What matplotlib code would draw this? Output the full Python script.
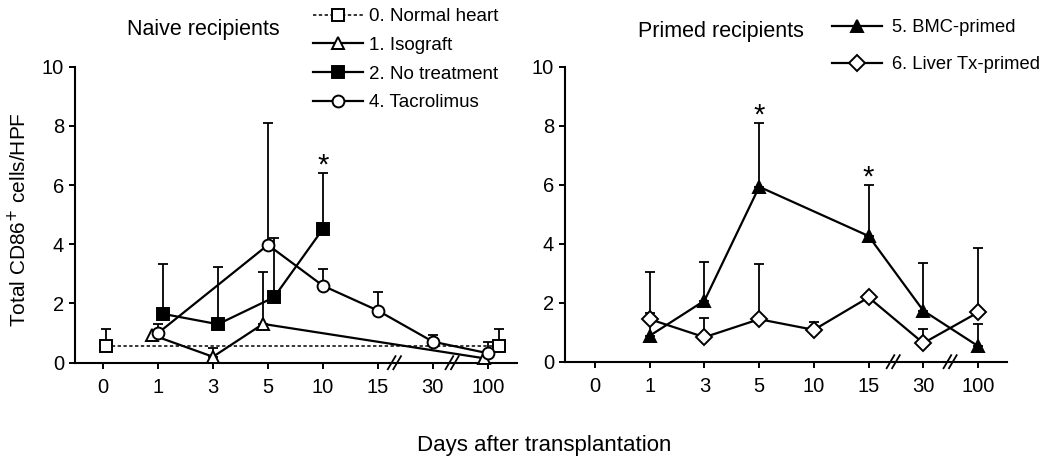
import numpy as np
import matplotlib
matplotlib.use('Agg')
import matplotlib.pyplot as plt

plt.rcParams['font.family'] = ['Liberation Sans', 'DejaVu Sans']

# x categories (days after transplantation)
day_labels = ['0', '1', '3', '5', '10', '15', '30', '100']

# ---- naive recipients: mean and top of the (upper) error bar
normal_days = ['0', '100']
normal_mean = [0.56, 0.56]
normal_top = [1.13, 1.15]

iso_days = ['1', '3', '5', '100']
iso_mean = [0.94, 0.20, 1.31, 0.15]
iso_top = [np.nan, 0.49, 3.05, np.nan]

notreat_days = ['1', '3', '5', '10']
notreat_mean = [1.65, 1.30, 2.21, 4.52]
notreat_top = [3.33, 3.22, 4.21, 6.40]

tacro_days = ['1', '5', '10', '15', '30', '100']
tacro_mean = [1.00, 3.98, 2.60, 1.76, 0.71, 0.32]
tacro_top = [1.30, 8.10, 3.18, 2.40, 0.94, 0.71]

# ---- primed recipients
bmc_days = ['1', '3', '5', '15', '30', '100']
bmc_mean = [0.88, 2.07, 5.93, 4.26, 1.73, 0.53]
bmc_top = [3.03, 3.38, 8.08, 5.99, 3.35, 1.27]

liver_days = ['1', '3', '5', '10', '15', '30', '100']
liver_mean = [1.44, 0.83, 1.44, 1.08, 2.18, 0.63, 1.67]
liver_top = [1.65, 1.47, 3.32, 1.34, np.nan, 1.11, 3.84]

# days marked with * (significant)
star_naive = ['10']
star_primed = ['5', '15']


def draw(ax, days, mean, top, off, marker, fill, ls='-', lw=1.6, ms=8.5, label=None):
    x = np.array([day_labels.index(d) for d in days]) + np.array(off)
    mean = np.array(mean)
    top = np.array(top)
    has = ~np.isnan(top)
    ax.errorbar(x[has], mean[has], yerr=[np.zeros(has.sum()), top[has] - mean[has]],
                fmt='none', ecolor='k', elinewidth=1.3, capsize=3.6, capthick=1.3,
                zorder=2, clip_on=False)
    ax.plot(x, mean, color='k', ls=ls, lw=lw, marker=marker, ms=ms, mfc=fill,
            mec='k', mew=1.4, label=label, zorder=3, clip_on=False)
    return x, top


def stars(ax, xs, tops, days, marked):
    for d in marked:
        i = days.index(d)
        ax.text(xs[i], tops[i] - 0.02, '*', ha='center', va='baseline', fontsize=21)


def style(ax, breaks, xlo):
    ax.set_xlim(xlo, 7.53)
    ax.set_ylim(0, 10)
    ax.spines['top'].set_visible(False)
    ax.spines['right'].set_visible(False)
    ax.spines['left'].set_linewidth(1.5)
    ax.spines['bottom'].set_linewidth(1.5)
    ax.set_xticks(range(len(day_labels)))
    ax.set_xticklabels(day_labels)
    ax.set_yticks([0, 2, 4, 6, 8, 10])
    ax.tick_params(axis='both', direction='out', length=4, width=1.4, labelsize=14.5)
    ax.tick_params(axis='x', pad=7)
    ax.tick_params(axis='y', pad=4)
    # axis break marks "//"
    for b in breaks:
        for d in (-0.05, 0.05):
            ax.plot([b + d - 0.07, b + d + 0.07], [-0.22, 0.22], color='k', lw=1.3,
                    clip_on=False, zorder=4)


fig = plt.figure(figsize=(10.5, 4.66), dpi=100)
axL = fig.add_axes([75 / 1050, 1 - 362.7 / 466, 442 / 1050, 296 / 466])
axR = fig.add_axes([565 / 1050, 1 - 361.7 / 466, 442 / 1050, 295 / 466])

dash = (0, (2.2, 1.6))
draw(axL, normal_days, normal_mean, normal_top, [0.05, 0.2], 's', 'white', ls=dash, lw=1.1,
     label='0. Normal heart')
draw(axL, iso_days, iso_mean, iso_top, [-0.11, 0, -0.09, -0.07], '^', 'white', label='1. Isograft')
xs, tops = draw(axL, notreat_days, notreat_mean, notreat_top, [0.09, 0.09, 0.11, 0], 's', 'black',
                label='2. No treatment')
stars(axL, xs, tops, notreat_days, star_naive)
draw(axL, tacro_days, tacro_mean, tacro_top, [0] * 6, 'o', 'white', label='4. Tacrolimus')

xs, tops = draw(axR, bmc_days, bmc_mean, bmc_top, [0] * 6, '^', 'black', label='5. BMC-primed')
stars(axR, xs, tops, bmc_days, star_primed)
draw(axR, liver_days, liver_mean, liver_top, [0] * 7, 'D', 'white', ms=8,
     label='6. Liver Tx-primed')

style(axL, [5.3, 6.35], -0.51)
style(axR, [5.45, 6.49], -0.55)

axL.legend(loc='upper left', bbox_to_anchor=(313 / 1050, 1 - 8 / 466),
           bbox_transform=fig.transFigure, frameon=False, fontsize=13.5, handlelength=2.67,
           handletextpad=0.3, labelspacing=0.62, borderpad=0, borderaxespad=0)
axR.legend(loc='upper left', bbox_to_anchor=(832 / 1050, 1 - 19 / 466),
           bbox_transform=fig.transFigure, frameon=False, fontsize=13.2, handlelength=2.7,
           handletextpad=0.55, labelspacing=1.1, borderpad=0, borderaxespad=0)

fig.text(203 / 1050, 1 - 30 / 466, 'Naive recipients', ha='center', va='center', fontsize=15.5)
fig.text(721 / 1050, 1 - 31 / 466, 'Primed recipients', ha='center', va='center', fontsize=15.5)
fig.text(18 / 1050, 1 - 220 / 466, 'Total CD86$^{+}$ cells/HPF', rotation=90,
         ha='center', va='center', fontsize=15)
fig.text(544 / 1050, 1 - 446 / 466, 'Days after transplantation', ha='center', va='center',
         fontsize=16)

fig.savefig('out.png', dpi=100)
